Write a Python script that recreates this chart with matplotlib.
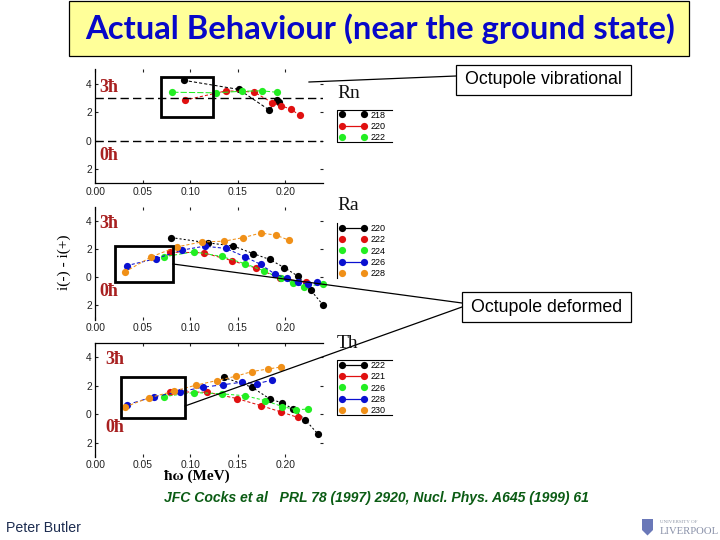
from matplotlib import pyplot as plt
from matplotlib.lines import Line2D
from matplotlib.patches import Rectangle, Polygon

BLACK = '#000000'
RED = '#e01010'
GREEN = '#22ee22'
BLUE = '#0a10d0'
ORANGE = '#f09018'

XTICKS = [0.0, 0.05, 0.10, 0.15, 0.20]
XTICK_LABELS = ['0.00', '0.05', '0.10', '0.15', '0.20']
YTICKS = [4, 2, 0, -2]
YTICK_LABELS = ['4', '2', '0', '2']

# Rn
rn_218_x = [0.093, 0.151, 0.183, 0.191, 0.193]
rn_218_y = [4.23, 3.59, 2.15, 2.83, 2.70]
rn_220_x = [0.094, 0.138, 0.167, 0.186, 0.196, 0.206, 0.215]
rn_220_y = [2.83, 3.49, 3.41, 2.67, 2.43, 2.20, 1.78]
rn_222_x = [0.081, 0.127, 0.154, 0.175, 0.191]
rn_222_y = [3.39, 3.35, 3.46, 3.49, 3.39]

# Ra
ra_220_x = [0.080, 0.119, 0.145, 0.166, 0.1835, 0.199, 0.213, 0.227, 0.240]
ra_220_y = [2.81, 2.43, 2.22, 1.68, 1.26, 0.68, 0.09, -0.94, -1.99]
ra_222_x = [0.079, 0.114, 0.144, 0.169, 0.194, 0.222]
ra_222_y = [1.78, 1.73, 1.17, 0.65, -0.05, -0.37]
ra_224_x = [0.072, 0.104, 0.133, 0.1575, 0.178, 0.195, 0.208, 0.220, 0.240]
ra_224_y = [1.45, 1.80, 1.47, 0.96, 0.44, -0.09, -0.40, -0.68, -0.47]
ra_226_x = [0.033, 0.0635, 0.091, 0.115, 0.1375, 0.1575, 0.174, 0.189, 0.202, 0.213, 0.2235, 0.233]
ra_226_y = [0.82, 1.31, 1.92, 2.20, 2.04, 1.45, 0.91, 0.23, -0.09, -0.35, -0.49, -0.37]
ra_228_x = [0.031, 0.059, 0.086, 0.112, 0.135, 0.156, 0.174, 0.190, 0.204]
ra_228_y = [0.37, 1.45, 2.15, 2.50, 2.55, 2.81, 3.13, 2.99, 2.62]

# Th
th_222_x = [0.135, 0.165, 0.184, 0.1965, 0.208, 0.221, 0.234]
th_222_y = [2.58, 1.88, 1.05, 0.79, 0.37, -0.40, -1.37]
th_221_x = [0.079, 0.118, 0.149, 0.174, 0.196, 0.213]
th_221_y = [1.56, 1.53, 1.09, 0.60, 0.14, -0.23]
th_226_x = [0.072, 0.104, 0.133, 0.158, 0.1786, 0.197, 0.2116, 0.2235]
th_226_y = [1.23, 1.51, 1.42, 1.28, 0.95, 0.53, 0.30, 0.35]
th_228_x = [0.033, 0.0614, 0.089, 0.113, 0.134, 0.154, 0.1705, 0.1856]
th_228_y = [0.65, 1.21, 1.56, 1.88, 2.05, 2.23, 2.14, 2.37]
th_230_x = [0.0316, 0.0565, 0.0825, 0.1056, 0.128, 0.148, 0.165, 0.182, 0.196]
th_230_y = [0.51, 1.14, 1.60, 2.02, 2.35, 2.65, 2.98, 3.16, 3.30]

W, H = 720, 540
SERIF = 'Liberation Serif'
SANS = 'Liberation Sans'

fig = plt.figure(figsize=(7.2, 5.4), dpi=100, facecolor='white')


def make_axes(top_px, bottom_px, spines):
    left_px, right_px = 95.3, 322.7
    ax = fig.add_axes([left_px / W, 1 - bottom_px / H,
                       (right_px - left_px) / W, (bottom_px - top_px) / H])
    ax.set_xlim(0, 0.2394)
    ax.set_ylim(-3, 5)
    ax.patch.set_alpha(0)
    for name in ax.spines:
        ax.spines[name].set_visible(name in spines)
        ax.spines[name].set_linewidth(0.9)
    ax.set_xticks(XTICKS, XTICK_LABELS)
    ax.set_yticks(YTICKS, YTICK_LABELS)
    ax.tick_params(direction='in', top=True, right=True, length=2.5, width=0.8,
                   labelsize=7.4, pad=2.5, colors='#222222')
    for label in ax.get_xticklabels() + ax.get_yticklabels():
        label.set_family(SANS)
    return ax


def draw_series(ax, series):
    for x, y, color, style in series:
        ax.plot(x, y, color=color, ls=style, lw=0.75, marker='o', ms=5.2, mew=0, clip_on=False)


def draw_legend(ax, labels, colors, with_line, x_px, y_px):
    handles = [Line2D([0], [0], color=c, lw=0.9 if s else 0, marker='o', ms=5.2, mew=0)
               for c, s in zip(colors, with_line)]
    ax.legend(handles, labels, loc='upper left', frameon=False, numpoints=2,
              bbox_to_anchor=(x_px / W, 1 - y_px / H), bbox_transform=fig.transFigure,
              prop={'family': SANS, 'size': 6.5}, handlelength=3.1, handletextpad=0.35,
              labelspacing=0.25, borderpad=0, borderaxespad=0)


ax1 = make_axes(69.3, 183.3, ['left', 'bottom'])
draw_series(ax1, [(rn_218_x, rn_218_y, BLACK, (0, (3, 2))),
                  (rn_220_x, rn_220_y, RED, (0, (3, 2))),
                  (rn_222_x, rn_222_y, GREEN, (0, (6, 2)))])
ax1.axhline(3, color='black', lw=1, ls=(0, (6, 3)))
ax1.axhline(0, color='black', lw=1, ls=(0, (6, 3)))
draw_legend(ax1, ['218', '220', '222'], [BLACK, RED, GREEN], [False, True, False], 339, 110.5)

ax2 = make_axes(206.7, 319.5, ['left'])
draw_series(ax2, [(ra_220_x, ra_220_y, BLACK, (0, (2, 2))),
                  (ra_222_x, ra_222_y, RED, (0, (3, 2))),
                  (ra_224_x, ra_224_y, GREEN, (0, (3, 2))),
                  (ra_226_x, ra_226_y, BLUE, (0, (3, 2))),
                  (ra_228_x, ra_228_y, ORANGE, (0, (3, 2)))])
draw_legend(ax2, ['220', '222', '224', '226', '228'], [BLACK, RED, GREEN, BLUE, ORANGE],
            [True, False, False, True, False], 339, 224)

ax3 = make_axes(342.7, 456.9, ['left', 'top'])
draw_series(ax3, [(th_222_x, th_222_y, BLACK, (0, (2, 2))),
                  (th_221_x, th_221_y, RED, (0, (3, 2))),
                  (th_226_x, th_226_y, GREEN, (0, (3, 2))),
                  (th_228_x, th_228_y, BLUE, (0, (4, 3))),
                  (th_230_x, th_230_y, ORANGE, (0, (3, 2)))])
draw_legend(ax3, ['222', '221', '226', '228', '230'], [BLACK, RED, GREEN, BLUE, ORANGE],
            [True, True, False, True, False], 339, 361)

# overlay in slide pixels for everything that sits on top of the plots
over = fig.add_axes([0, 0, 1, 1], zorder=10)
over.set_xlim(0, W)
over.set_ylim(H, 0)
over.axis('off')

over.add_patch(Rectangle((68.5, 0.5), 620.5, 55.5, fc='#ffff99', ec='black', lw=0.9))
over.text(380, 28.5, 'Actual Behaviour (near the ground state)', family='Lato', weight='bold',
          fontsize=23.6, color='#0808c8', ha='center', va='center')

for x0, y0, x1, y1 in [(161, 76.7, 213, 116.7), (115, 246, 173.3, 281.7), (121.3, 377, 185, 417.7)]:
    over.add_patch(Rectangle((x0, y0), x1 - x0, y1 - y0, fc='none', ec='black', lw=2))

for xs, ys in [((309, 456), (82, 76)), ((173, 462), (264, 303)), ((185, 462), (406, 307))]:
    over.plot(xs, ys, color='black', lw=0.9)

for x0, y0, x1, y1, txt in [(456, 65, 631, 95, 'Octupole vibrational'),
                            (462, 292, 631, 322, 'Octupole deformed')]:
    over.add_patch(Rectangle((x0, y0), x1 - x0, y1 - y0, fc='white', ec='black', lw=0.9))
    over.text((x0 + x1) / 2, (y0 + y1) / 2, txt, family=SANS, fontsize=12.8,
              ha='center', va='center', color='black')

for x, y, txt in [(99, 87, '3ħ'), (99, 155, '0ħ'), (99, 223, '3ħ'), (99, 291, '0ħ'),
                  (105, 359, '3ħ'), (105, 427, '0ħ')]:
    over.text(x, y, txt, family=SERIF, weight='bold', fontsize=13, color='#a82020',
              ha='left', va='center')

for y, txt in [(93, 'Rn'), (205, 'Ra'), (343, 'Th')]:
    over.text(337, y, txt, family=SERIF, fontsize=14, color='#111111', ha='left', va='center')

# legend frames: open on the right
for y0, y1 in [(109.5, 142), (359.5, 415)]:
    over.plot([392, 336.5, 336.5, 392], [y0, y0, y1, y1], color='black', lw=0.8)
over.plot([336.5, 336.5], [223, 278], color='black', lw=0.8)

over.text(64, 262, 'i(-) - i(+)', family=SERIF, fontsize=11, rotation=90, ha='center', va='center')
over.text(197, 476.5, 'ħω (MeV)', family=SERIF, weight='bold', fontsize=11, ha='center', va='center')
over.text(376, 498, 'JFC Cocks et al   PRL 78 (1997) 2920, Nucl. Phys. A645 (1999) 61', family=SANS,
          style='italic', weight='bold', fontsize=10.1, color='#0b5c14', ha='center', va='center')
over.text(6, 527.5, 'Peter Butler', family=SANS, fontsize=10.2, color='#1c2c50', ha='left', va='center')

# Liverpool logo
over.add_patch(Polygon([(642, 519), (653, 519), (653, 530), (647.5, 535.5), (642, 530)],
                       fc='#6a78b8', ec='none'))
over.text(660, 521.7, 'UNIVERSITY OF', family=SERIF, fontsize=3.6, color='#9098a8', ha='left', va='center')
over.text(660, 531, 'LIVERPOOL', family=SERIF, fontsize=7.7, color='#8890a8', ha='left', va='center')

fig.savefig('out.png', dpi=100)
